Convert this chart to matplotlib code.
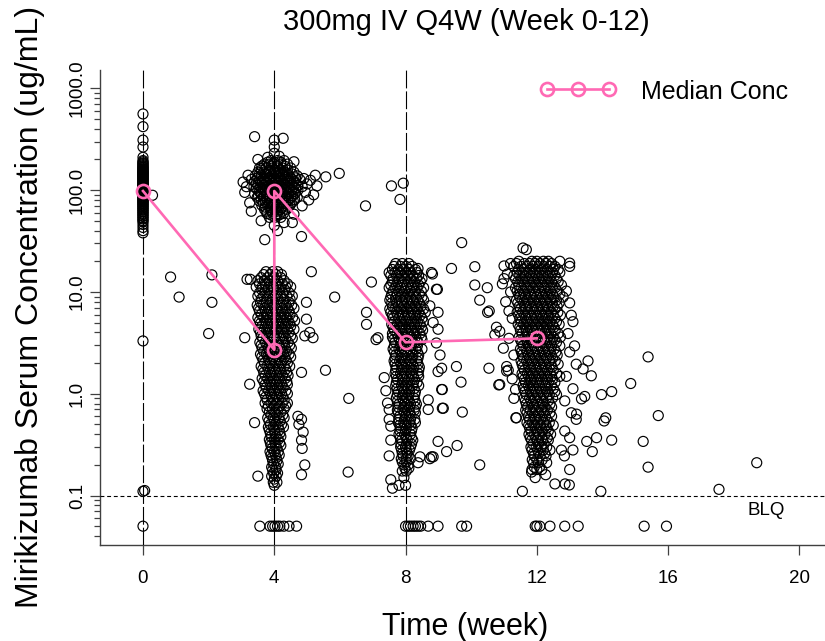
import matplotlib
matplotlib.use("Agg")
import matplotlib.pyplot as plt
from matplotlib.lines import Line2D
from matplotlib.ticker import FixedLocator, NullFormatter

plt.rcParams['font.family'] = ['Liberation Sans', 'DejaVu Sans']

# ---------------- text ----------------
title = "300mg IV Q4W (Week 0-12)"
x_label = "Time (week)"
y_label = "Mirikizumab Serum Concentration (ug/mL)"
legend_label = "Median Conc"
blq_text = "BLQ"
x_ticks = [0, 4, 8, 12, 16, 20]
y_ticks = [0.1, 1.0, 10.0, 100.0, 1000.0]
y_tick_labels = ["0.1", "1.0", "10.0", "100.0", "1000.0"]

# ---------------- reference lines ----------------
dose_weeks = [0, 4, 8]
blq_limit = 0.1
blq_plot_value = 0.05

# ---------------- median profile ----------------
median_weeks = [0, 4, 4, 8, 12]
median_conc = [98, 2.7, 98, 3.2, 3.5]

# ---------------- observations ----------------
# week 0 (all at nominal time 0)
week0_time = 0.0
week0_conc = [560, 420, 310, 265, 210, 195, 185, 178, 170, 165, 160, 155, 150,
              146, 142, 138, 134, 130, 126, 122, 118, 115, 112, 109, 106, 103,
              100, 97, 94, 91, 88, 85, 82, 79, 76, 73, 70, 67, 64, 61, 58, 55,
              52, 49, 46, 43, 40, 38, 3.3, 0.11,
              190, 182, 174, 168, 162, 157, 152, 148, 144, 140, 136, 132, 128,
              124, 120, 116, 113, 110, 107, 104, 101, 98, 95, 92, 89, 86, 83,
              80, 77, 74, 71, 68, 65, 62, 59, 56, 53, 50]

# week 4 post-dose peak, rows of (concentration, [times])
week4_peak_rows = [
    (195, [3.9, 4.1, 4.3]),
    (188, [3.8, 4.0, 4.2]),
    (180, [3.7, 3.85, 4.0, 4.2, 4.4]),
    (172, [3.62, 3.9, 4.1, 4.32]),
    (165, [3.55, 3.75, 3.95, 4.08, 4.25, 4.5]),
    (157, [3.6, 3.85, 4.02, 4.18, 4.4]),
    (150, [3.5, 3.68, 3.82, 4.0, 4.15, 4.33, 4.6]),
    (144, [3.55, 3.72, 3.88, 4.05, 4.22, 4.4, 4.55]),
    (138, [3.42, 3.6, 3.78, 3.93, 4.1, 4.28, 4.45, 4.7]),
    (132, [3.5, 3.68, 3.85, 4.0, 4.17, 4.33, 4.5, 4.65]),
    (127, [3.3, 3.55, 3.72, 3.88, 4.05, 4.22, 4.38, 4.55, 4.78]),
    (122, [3.4, 3.58, 3.76, 3.92, 4.1, 4.26, 4.42, 4.6]),
    (117, [3.45, 3.63, 3.8, 3.97, 4.13, 4.3, 4.48, 4.66]),
    (112, [3.5, 3.68, 3.85, 4.02, 4.18, 4.36, 4.53, 4.72]),
    (108, [3.38, 3.57, 3.74, 3.9, 4.07, 4.24, 4.4, 4.6, 4.85]),
    (104, [3.45, 3.62, 3.8, 3.96, 4.12, 4.3, 4.47, 4.65]),
    (100, [3.5, 3.68, 3.85, 4.02, 4.18, 4.35, 4.52, 4.72]),
    (96, [3.55, 3.72, 3.9, 4.06, 4.23, 4.4, 4.58]),
    (92, [3.4, 3.6, 3.77, 3.94, 4.1, 4.27, 4.45, 4.63]),
    (88, [3.52, 3.7, 3.87, 4.04, 4.21, 4.38, 4.56]),
    (85, [3.48, 3.66, 3.83, 4.0, 4.16, 4.33, 4.5, 4.7]),
    (81, [3.6, 3.78, 3.95, 4.11, 4.28, 4.45, 4.62]),
    (78, [3.55, 3.72, 3.9, 4.06, 4.23, 4.4, 4.58]),
    (75, [3.66, 3.85, 4.0, 4.17, 4.34, 4.52]),
    (71, [3.62, 3.8, 3.96, 4.12, 4.3, 4.48]),
    (68, [3.72, 3.9, 4.07, 4.24, 4.42]),
    (65, [3.7, 3.87, 4.03, 4.2, 4.38]),
    (62, [3.75, 3.92, 4.08, 4.25]),
    (59, [3.78, 3.95, 4.1, 4.28]),
    (57, [3.9, 4.06, 4.15]),
    (54, [3.85, 4.02, 4.2]),
]

# week 4 pre-dose trough
week4_trough_rows = [
    (15.8, [3.75, 3.95, 4.1]),
    (14.8, [3.68, 3.88, 4.05, 4.22]),
    (13.8, [3.6, 3.8, 4.0, 4.2]),
    (12.9, [3.5, 3.7, 3.85, 4.1, 4.3]),
    (12.0, [3.55, 3.72, 3.9, 4.06, 4.25, 4.4]),
    (11.2, [3.45, 3.63, 3.82, 3.98, 4.17, 4.35, 4.5]),
    (10.5, [3.62, 3.8, 3.97, 4.14, 4.32]),
    (9.8, [3.55, 3.72, 3.9, 4.07, 4.25, 4.45]),
    (9.1, [3.5, 3.68, 3.86, 4.03, 4.2, 4.38, 4.55]),
    (8.5, [3.6, 3.78, 3.95, 4.12, 4.3, 4.48]),
    (7.9, [3.58, 3.76, 3.93, 4.1, 4.28, 4.45]),
    (7.4, [3.48, 3.66, 3.84, 4.0, 4.18, 4.36, 4.53]),
    (6.9, [3.52, 3.7, 3.88, 4.05, 4.22, 4.4, 4.6]),
    (6.5, [3.55, 3.73, 3.92, 4.08, 4.26, 4.45]),
    (6.0, [3.6, 3.78, 3.95, 4.12, 4.3, 4.48]),
    (5.6, [3.5, 3.68, 3.86, 4.03, 4.2, 4.38, 4.56]),
    (5.2, [3.55, 3.73, 3.9, 4.07, 4.25, 4.42, 4.62]),
    (4.9, [3.58, 3.76, 3.94, 4.1, 4.28, 4.47]),
    (4.6, [3.62, 3.8, 3.97, 4.15, 4.33, 4.5]),
    (4.3, [3.53, 3.7, 3.88, 4.05, 4.23, 4.4, 4.6]),
    (4.0, [3.58, 3.75, 3.92, 4.1, 4.27, 4.45]),
    (3.7, [3.6, 3.78, 3.96, 4.13, 4.3, 4.5]),
    (3.5, [3.65, 3.83, 4.0, 4.17, 4.35, 4.55]),
    (3.2, [3.56, 3.73, 3.9, 4.07, 4.25, 4.42]),
    (3.0, [3.6, 3.78, 3.95, 4.12, 4.3, 4.47]),
    (2.8, [3.63, 3.82, 4.0, 4.16, 4.34, 4.52]),
    (2.6, [3.68, 3.86, 4.03, 4.2, 4.38]),
    (2.45, [3.58, 3.76, 3.93, 4.1, 4.28, 4.45]),
    (2.3, [3.62, 3.8, 3.97, 4.14, 4.32, 4.5]),
    (2.14, [3.66, 3.84, 4.01, 4.18, 4.36]),
    (2.0, [3.7, 3.88, 4.05, 4.22, 4.4]),
    (1.86, [3.6, 3.78, 3.96, 4.13, 4.3, 4.47]),
    (1.74, [3.65, 3.82, 4.0, 4.17, 4.35]),
    (1.62, [3.68, 3.86, 4.03, 4.2, 4.38]),
    (1.51, [3.72, 3.9, 4.07, 4.25, 4.42]),
    (1.41, [3.63, 3.8, 3.98, 4.15, 4.33]),
    (1.32, [3.68, 3.85, 4.02, 4.2, 4.38]),
    (1.23, [3.72, 3.9, 4.06, 4.23, 4.4]),
    (1.15, [3.75, 3.92, 4.1, 4.27]),
    (1.07, [3.66, 3.83, 4.0, 4.18, 4.35]),
    (1.0, [3.7, 3.88, 4.05, 4.22, 4.4]),
    (0.93, [3.74, 3.92, 4.08, 4.26]),
    (0.87, [3.78, 3.95, 4.12, 4.3]),
    (0.81, [3.72, 3.9, 4.07, 4.24, 4.4]),
    (0.76, [3.82, 4.0, 4.17, 4.35]),
    (0.71, [3.78, 3.95, 4.12, 4.3]),
    (0.66, [3.85, 4.02, 4.2]),
    (0.62, [3.9, 4.08, 4.26]),
    (0.58, [3.8, 3.97, 4.14, 4.3]),
    (0.54, [3.84, 4.0, 4.18]),
    (0.50, [3.88, 4.05, 4.22]),
    (0.47, [3.82, 3.97, 4.12, 4.28]),
    (0.44, [3.85, 4.0, 4.15]),
    (0.41, [3.88, 4.02, 4.17]),
    (0.38, [3.9, 4.05, 4.2]),
    (0.355, [3.85, 4.0, 4.12]),
    (0.33, [3.88, 4.02, 4.16]),
    (0.31, [3.9, 4.05, 4.2]),
    (0.29, [3.93, 4.08]),
    (0.27, [3.87, 4.0, 4.12]),
    (0.25, [3.9, 4.03, 4.15]),
    (0.235, [3.93, 4.06]),
    (0.22, [3.95, 4.08]),
    (0.204, [3.98, 4.12]),
    (0.19, [3.92, 4.05]),
    (0.178, [3.95, 4.05]),
    (0.166, [3.98, 4.1]),
    (0.155, [3.92, 4.06]),
    (0.145, [4.0]),
    (0.135, [3.97, 4.08]),
    (0.126, [4.0]),
]

# week 8
week8_rows = [
    (19, [7.7, 7.9, 8.1]),
    (17.8, [7.65, 7.85, 8.02, 8.2]),
    (16.6, [7.6, 7.78, 7.95, 8.12, 8.3]),
    (15.5, [7.5, 7.68, 7.82, 8.0, 8.15, 8.35]),
    (14.5, [7.55, 7.72, 7.88, 8.05, 8.22, 8.4]),
    (13.5, [7.62, 7.8, 7.97, 8.15, 8.33, 8.5]),
    (12.6, [7.6, 7.77, 7.93, 8.1, 8.27, 8.45]),
    (11.7, [7.55, 7.72, 7.9, 8.06, 8.23, 8.4]),
    (11.0, [7.5, 7.68, 7.85, 8.02, 8.18, 8.35, 8.55]),
    (10.2, [7.62, 7.8, 7.97, 8.13, 8.3, 8.48]),
    (9.5, [7.58, 7.75, 7.92, 8.08, 8.25, 8.42]),
    (8.9, [7.55, 7.7, 7.85, 8.0, 8.16, 8.33, 8.5]),
    (8.3, [7.52, 7.7, 7.87, 8.03, 8.2, 8.37, 8.55]),
    (7.8, [7.58, 7.74, 7.9, 8.07, 8.24, 8.42]),
    (7.2, [7.6, 7.78, 7.95, 8.12, 8.3, 8.47]),
    (6.8, [7.52, 7.68, 7.86, 8.03, 8.2, 8.36, 8.55]),
    (6.3, [7.55, 7.72, 7.9, 8.07, 8.23, 8.4, 8.6]),
    (5.9, [7.6, 7.76, 7.93, 8.1, 8.28, 8.45]),
    (5.5, [7.62, 7.8, 7.97, 8.14, 8.32, 8.5]),
    (5.1, [7.66, 7.84, 8.01, 8.18, 8.36, 8.54]),
    (4.8, [7.58, 7.75, 7.92, 8.1, 8.27, 8.44]),
    (4.5, [7.62, 7.8, 7.96, 8.13, 8.3, 8.48]),
    (4.2, [7.65, 7.83, 8.0, 8.17, 8.35, 8.52]),
    (3.9, [7.6, 7.74, 7.92, 8.08, 8.26, 8.44]),
    (3.6, [7.6, 7.78, 7.95, 8.12, 8.3, 8.48]),
    (3.4, [7.64, 7.82, 7.99, 8.16, 8.34, 8.5]),
    (3.2, [7.68, 7.86, 8.03, 8.2, 8.38]),
    (2.95, [7.66, 7.84, 8.0, 8.18, 8.36]),
    (2.75, [7.62, 7.8, 7.97, 8.15, 8.32, 8.5]),
    (2.57, [7.66, 7.84, 8.01, 8.18, 8.36]),
    (2.4, [7.7, 7.88, 8.05, 8.22, 8.4]),
    (2.24, [7.68, 7.86, 8.03, 8.2, 8.38]),
    (2.1, [7.65, 7.82, 8.0, 8.17, 8.35]),
    (1.95, [7.68, 7.86, 8.03, 8.21, 8.38]),
    (1.82, [7.72, 7.9, 8.07, 8.25, 8.42]),
    (1.7, [7.7, 7.88, 8.05, 8.22, 8.4]),
    (1.58, [7.68, 7.85, 8.02, 8.2, 8.38]),
    (1.48, [7.72, 7.9, 8.06, 8.24, 8.4]),
    (1.38, [7.75, 7.92, 8.1, 8.27]),
    (1.29, [7.72, 7.9, 8.06, 8.24, 8.35]),
    (1.2, [7.7, 7.88, 8.05, 8.22, 8.4]),
    (1.12, [7.74, 7.92, 8.08, 8.26]),
    (1.05, [7.78, 7.95, 8.12, 8.3]),
    (0.98, [7.75, 7.92, 8.1, 8.28]),
    (0.91, [7.72, 7.9, 8.07, 8.25]),
    (0.85, [7.76, 7.94, 8.11, 8.29]),
    (0.79, [7.8, 7.97, 8.15, 8.33]),
    (0.74, [7.78, 7.95, 8.12, 8.3]),
    (0.69, [7.75, 7.92, 8.1, 8.27]),
    (0.65, [7.78, 7.96, 8.13, 8.3]),
    (0.60, [7.82, 8.0, 8.17]),
    (0.56, [7.8, 7.97, 8.15, 8.28]),
    (0.52, [7.78, 7.95, 8.12, 8.3]),
    (0.49, [7.82, 7.98, 8.16]),
    (0.46, [7.85, 8.02, 8.2]),
    (0.43, [7.83, 8.0, 8.18]),
    (0.40, [7.8, 7.97, 8.15]),
    (0.37, [7.84, 8.02, 8.18]),
    (0.35, [7.88, 8.05, 8.22]),
    (0.32, [7.86, 8.03, 8.18]),
    (0.30, [7.85, 8.0, 8.15]),
    (0.28, [7.88, 8.02, 8.12]),
    (0.26, [7.9, 8.05]),
    (0.245, [7.92, 8.08]),
    (0.23, [7.87, 8.02, 8.15]),
    (0.214, [7.9, 8.02]),
    (0.20, [7.95, 8.08]),
    (0.186, [7.98, 8.1]),
    (0.174, [7.9, 8.02]),
    (0.15, [7.95]),
    (0.126, [7.8, 8.0]),
]

# week 12
week12_rows = [
    (27, [11.58]),
    (26, [11.68]),
    (20, [11.45, 11.85, 12.0, 12.2, 12.35, 12.7]),
    (19, [11.38, 11.62, 11.78, 11.95, 12.1, 12.28, 12.45]),
    (17.8, [11.3, 11.52, 11.7, 11.88, 12.05, 12.22, 12.4, 12.55, 13.0]),
    (16.6, [11.45, 11.62, 11.8, 11.97, 12.14, 12.32, 12.5, 12.65]),
    (15.5, [11.4, 11.6, 11.78, 11.95, 12.12, 12.3, 12.48, 12.7]),
    (14.5, [11.3, 11.48, 11.65, 11.83, 12.0, 12.18, 12.35, 12.55]),
    (13.5, [11.35, 11.52, 11.7, 11.87, 12.05, 12.22, 12.4, 12.6]),
    (12.6, [11.42, 11.58, 11.75, 11.92, 12.1, 12.27, 12.45, 12.65]),
    (11.7, [11.45, 11.62, 11.8, 11.97, 12.15, 12.32, 12.5, 12.75]),
    (11.0, [11.35, 11.52, 11.7, 11.88, 12.05, 12.22, 12.4, 12.56]),
    (10.2, [11.4, 11.57, 11.75, 11.92, 12.08, 12.25, 12.42, 12.62, 12.9]),
    (9.5, [11.45, 11.62, 11.8, 11.96, 12.13, 12.3, 12.48, 12.7]),
    (8.9, [11.48, 11.65, 11.83, 12.0, 12.17, 12.35, 12.52, 12.8]),
    (8.3, [11.38, 11.55, 11.72, 11.9, 12.08, 12.25, 12.42, 12.6]),
    (7.8, [11.42, 11.6, 11.77, 11.95, 12.12, 12.3, 12.47, 12.68, 13.0]),
    (7.2, [11.46, 11.64, 11.8, 11.98, 12.16, 12.33, 12.5, 12.62]),
    (6.8, [11.5, 11.67, 11.85, 12.02, 12.2, 12.37, 12.55]),
    (6.3, [11.4, 11.57, 11.74, 11.92, 12.1, 12.27, 12.44, 12.64]),
    (5.9, [11.45, 11.63, 11.8, 11.97, 12.15, 12.33, 12.5, 12.72, 13.05]),
    (5.5, [11.48, 11.66, 11.83, 12.0, 12.18, 12.36, 12.55]),
    (5.1, [11.52, 11.7, 11.87, 12.05, 12.22, 12.4, 12.6, 13.1]),
    (4.8, [11.43, 11.6, 11.78, 11.96, 12.13, 12.3, 12.48, 12.68]),
    (4.5, [11.48, 11.65, 11.83, 12.0, 12.17, 12.35, 12.52]),
    (4.2, [11.5, 11.68, 11.86, 12.03, 12.2, 12.38, 12.56]),
    (3.9, [11.55, 11.72, 11.9, 12.07, 12.25, 12.42, 12.65, 12.95]),
    (3.6, [11.46, 11.64, 11.82, 11.98, 12.16, 12.33, 12.5, 12.72]),
    (3.4, [11.5, 11.68, 11.85, 12.03, 12.2, 12.38, 12.55]),
    (3.2, [11.54, 11.72, 11.9, 12.07, 12.24, 12.42, 12.6]),
    (2.95, [11.58, 11.75, 11.92, 12.1, 12.27, 12.45, 12.7, 13.15]),
    (2.75, [11.5, 11.67, 11.84, 12.02, 12.19, 12.36, 12.53]),
    (2.57, [11.53, 11.7, 11.88, 12.05, 12.23, 12.4, 12.58, 13.0]),
    (2.4, [11.56, 11.74, 11.91, 12.08, 12.26, 12.44, 12.62]),
    (2.24, [11.6, 11.78, 11.95, 12.12, 12.3, 12.48]),
    (2.1, [11.52, 11.69, 11.86, 12.04, 12.21, 12.39, 12.56]),
    (1.95, [11.55, 11.73, 11.9, 12.08, 12.25, 12.43, 12.65, 13.2]),
    (1.82, [11.58, 11.76, 11.94, 12.11, 12.28, 12.46]),
    (1.7, [11.62, 11.8, 11.97, 12.15, 12.32, 12.5]),
    (1.58, [11.55, 11.71, 11.88, 12.06, 12.24, 12.41, 12.6]),
    (1.48, [11.58, 11.75, 11.93, 12.1, 12.28, 12.45, 12.7, 12.9]),
    (1.38, [11.62, 11.8, 11.97, 12.14, 12.32, 12.48]),
    (1.29, [11.65, 11.82, 12.0, 12.17, 12.35, 12.55]),
    (1.2, [11.58, 11.74, 11.9, 12.08, 12.26, 12.44]),
    (1.12, [11.6, 11.78, 11.95, 12.12, 12.3, 12.5, 13.1]),
    (1.05, [11.64, 11.82, 11.99, 12.16, 12.34, 12.55]),
    (0.98, [11.68, 11.85, 12.02, 12.2, 12.38, 12.6]),
    (0.91, [11.62, 11.78, 11.95, 12.12, 12.3, 12.48]),
    (0.85, [11.65, 11.82, 12.0, 12.17, 12.35, 12.85]),
    (0.79, [11.68, 11.86, 12.03, 12.2, 12.4]),
    (0.74, [11.72, 11.9, 12.07, 12.25, 12.45]),
    (0.69, [11.66, 11.8, 11.97, 12.14, 12.32]),
    (0.65, [11.7, 11.87, 12.05, 12.22, 12.4, 13.05]),
    (0.60, [11.74, 11.92, 12.08, 12.26, 12.45]),
    (0.56, [11.78, 11.95, 12.12, 12.3, 13.2]),
    (0.52, [11.7, 11.86, 12.03, 12.2, 12.38]),
    (0.49, [11.75, 11.92, 12.1, 12.28, 12.5]),
    (0.46, [11.78, 11.96, 12.13, 12.3]),
    (0.43, [11.82, 12.0, 12.17, 12.35, 12.85]),
    (0.40, [11.76, 11.92, 12.08, 12.25, 12.42]),
    (0.37, [11.8, 11.97, 12.15, 12.32, 13.0]),
    (0.35, [11.84, 12.02, 12.18, 12.35]),
    (0.32, [11.88, 12.05, 12.22]),
    (0.30, [11.82, 11.98, 12.14, 12.3]),
    (0.28, [11.85, 12.02, 12.2, 12.4, 12.75, 13.1]),
    (0.26, [11.9, 12.06, 12.24]),
    (0.245, [11.92, 12.1, 12.28, 12.84]),
    (0.224, [11.86, 12.0, 12.16]),
    (0.21, [11.9, 12.05, 12.3]),
    (0.19, [11.92, 12.08]),
    (0.18, [11.85, 12.0, 12.15, 13.0]),
    (0.15, [11.95]),
]

# scattered observations away from the nominal visits
other_weeks = [0.05, 0.29, 0.84, 1.10, 2.10, 2.10, 2.00,
               3.40, 4.27, 4.00, 4.00, 4.00, 4.15, 3.80, 3.50, 4.60,
               3.05, 3.10, 3.20, 3.25, 3.30, 3.15, 4.90, 5.00, 4.95, 5.10,
               5.05, 4.85, 4.60, 3.60, 4.30, 4.55, 3.71, 4.83, 4.00, 4.10,
               5.57, 5.98, 5.25, 5.30, 5.20,
               3.17, 3.27, 3.10, 3.25, 3.40, 3.50,
               5.13, 5.84, 6.78, 6.96, 7.57, 7.93, 7.83, 6.81, 6.81, 7.10,
               7.16, 5.56, 6.27, 6.25, 4.98, 4.98, 4.93, 5.08, 5.18, 4.83,
               4.83, 4.88, 4.83, 4.85, 4.93, 4.83, 4.75, 4.72,
               7.35, 7.40, 7.45, 7.50, 7.50, 7.55, 7.55, 7.50, 7.55, 7.60,
               8.79, 8.94, 8.74, 8.99, 8.84, 8.99, 8.94, 9.05, 8.99, 9.10,
               9.10, 8.69, 9.15, 8.69, 8.79, 8.44,
               9.71, 9.40, 10.11, 10.11, 10.49, 10.26, 8.82, 8.97, 8.38,
               10.50, 10.55, 10.54, 10.84, 11.08, 11.36, 9.55, 9.69, 9.73,
               9.12, 9.12, 8.99, 9.25, 9.57, 10.26, 8.84, 8.74, 8.38,
               10.77, 10.87, 10.72, 10.98, 11.08, 11.13, 10.87, 11.38,
               11.00, 11.10, 10.95, 11.20, 11.05, 11.15, 11.25, 11.00,
               11.20, 11.15, 11.30, 11.25, 11.30, 11.35,
               13.56, 13.41, 13.66, 13.46, 13.36, 13.21, 13.82, 13.52,
               13.69, 14.28, 13.95, 12.27, 12.55, 12.86, 12.99, 11.84,
               11.56, 13.00,
               14.86, 14.28, 13.97, 15.70, 14.10, 14.05, 15.24, 15.39,
               15.39, 18.70, 17.55]
other_conc = [0.112, 89, 14, 8.9, 14.7, 7.9, 3.9,
              335, 323, 310, 265, 230, 215, 210, 200, 190,
              120, 95, 140, 75, 62, 108, 130, 115, 95, 125,
              80, 70, 58, 50, 48, 48, 32.6, 35, 45, 40,
              135, 146, 140, 110, 90,
              13.3, 13.3, 3.55, 1.24, 0.52, 0.155,
              15.8, 8.9, 70, 12.5, 110, 117, 81, 6.3, 4.8, 3.4,
              3.55, 1.7, 0.9, 0.17, 7.9, 5.4, 3.7, 4.0, 3.55, 1.62,
              0.56, 0.42, 0.35, 0.29, 0.2, 0.16, 0.5, 0.6,
              1.44, 1.07, 0.81, 0.7, 0.56, 0.48, 0.35, 0.245, 0.143, 0.118,
              15.5, 10.6, 7.3, 6.3, 5.0, 4.3, 3.15, 2.4, 1.65, 1.78,
              1.1, 0.87, 0.72, 0.7, 0.24, 0.24,
              30.5, 17, 17.7, 11.7, 11, 8.3, 15, 10.6, 17,
              6.3, 6.5, 1.78, 1.22, 1.67, 0.58, 1.85, 1.3, 0.66,
              1.1, 0.72, 0.34, 0.27, 0.31, 0.2, 0.24, 0.23, 0.21,
              4.5, 4.1, 3.8, 2.8, 1.85, 1.7, 1.23, 0.58,
              18, 15, 12, 10, 8, 6.5, 5.5, 13.5,
              19, 3.5, 2.4, 1.4, 0.9, 1.1,
              2.1, 1.75, 1.5, 0.94, 0.89, 0.63, 0.37, 0.34,
              0.27, 0.35, 0.11, 0.16, 0.13, 0.13, 0.127, 0.17,
              0.11, 19.2,
              1.26, 1.05, 0.98, 0.61, 0.58, 0.54, 0.34, 0.19,
              2.3, 0.21, 0.115]

# below-limit observations (plotted at 0.05)
blq_weeks = [0.0, 3.56, 3.87, 3.95, 4.02, 4.10, 4.17, 4.29, 4.45, 4.68,
             8.00, 8.08, 8.15, 8.23, 8.30, 8.38, 8.46, 8.69, 8.99,
             9.71, 9.86, 11.95, 12.00, 12.09, 12.40, 12.85, 13.26,
             15.27, 15.95]


def expand(rows):
    xs, ys = [], []
    for conc, times in rows:
        xs.extend(times)
        ys.extend([conc] * len(times))
    return xs, ys


obs_x, obs_y = [], []
obs_x.extend([week0_time] * len(week0_conc))
obs_y.extend(week0_conc)
for rows in (week4_peak_rows, week4_trough_rows, week8_rows, week12_rows):
    xs, ys = expand(rows)
    obs_x.extend(xs)
    obs_y.extend(ys)
obs_x.extend(other_weeks)
obs_y.extend(other_conc)
obs_x.extend(blq_weeks)
obs_y.extend([blq_plot_value] * len(blq_weeks))

# ---------------- figure ----------------
W, H = 825, 641
fig = plt.figure(figsize=(W / 100, H / 100), dpi=100)
ax_l, ax_r, ax_t, ax_b = 100, 825, 70, 545
ax = fig.add_axes([ax_l / W, 1 - ax_b / H, (ax_r - ax_l) / W, (ax_b - ax_t) / H])

pink = '#FF69B4'
axis_col = '#404040'

ax.scatter(obs_x, obs_y, s=52, facecolors='none', edgecolors='black',
           linewidths=0.85, zorder=2)

for wk in dose_weeks:
    ax.axvline(wk, color='black', lw=0.8, dashes=(16, 2.7), zorder=3)
ax.axhline(blq_limit, color='black', lw=0.8, dashes=(3.5, 2.5), zorder=3)

ax.plot(median_weeks, median_conc, color=pink, lw=1.9, marker='o', ms=9.4,
        mfc='none', mec=pink, mew=1.9, zorder=5)

ax.set_yscale('log')
ax.set_xlim(-1.31, 20.78)
ax.set_ylim(0.03266, 1513)

ax.set_xticks(x_ticks)
ax.set_xticklabels([str(t) for t in x_ticks], fontsize=13.5)
ax.set_yticks(y_ticks)
ax.set_yticklabels(y_tick_labels, fontsize=13.5, rotation=90, va='center')
minor = [m * 10.0 ** e for e in range(-2, 3) for m in range(2, 10)]
ax.yaxis.set_minor_locator(FixedLocator(minor))
ax.yaxis.set_minor_formatter(NullFormatter())

ax.tick_params(axis='x', length=7.2, width=0.9, color=axis_col, pad=11)
ax.tick_params(axis='y', which='major', length=7.2, width=0.9, color=axis_col, pad=3)
ax.tick_params(axis='y', which='minor', length=4.2, width=0.9, color=axis_col)

for s in ('top', 'right'):
    ax.spines[s].set_visible(False)
for s in ('left', 'bottom'):
    ax.spines[s].set_color(axis_col)
    ax.spines[s].set_linewidth(1.0)

ax.text(19.0, 0.072, blq_text, fontsize=13.5, ha='center', va='center')

# titles
fig.text(466 / W, 1 - 22 / H, title, fontsize=21, ha='center', va='center')
ax.set_xlabel(x_label, fontsize=22, va='center')
ax.xaxis.set_label_coords((465 - ax_l) / (ax_r - ax_l), (ax_b - 627) / (ax_b - ax_t))
ax.set_ylabel(y_label, fontsize=23, va='center')
ax.yaxis.set_label_coords((30 - ax_l) / (ax_r - ax_l), (ax_b - 307) / (ax_b - ax_t))

# legend
lx = [546.7 / W, 578.3 / W, 609.3 / W]
ly = [1 - 89 / H] * 3
fig.add_artist(Line2D(lx, ly, transform=fig.transFigure, color=pink, lw=1.9,
                      marker='o', ms=9.4, mfc='none', mec=pink, mew=1.9))
fig.text(640.7 / W, 1 - 92 / H, legend_label, fontsize=18, ha='left', va='center')

fig.savefig('out.png', dpi=100)
